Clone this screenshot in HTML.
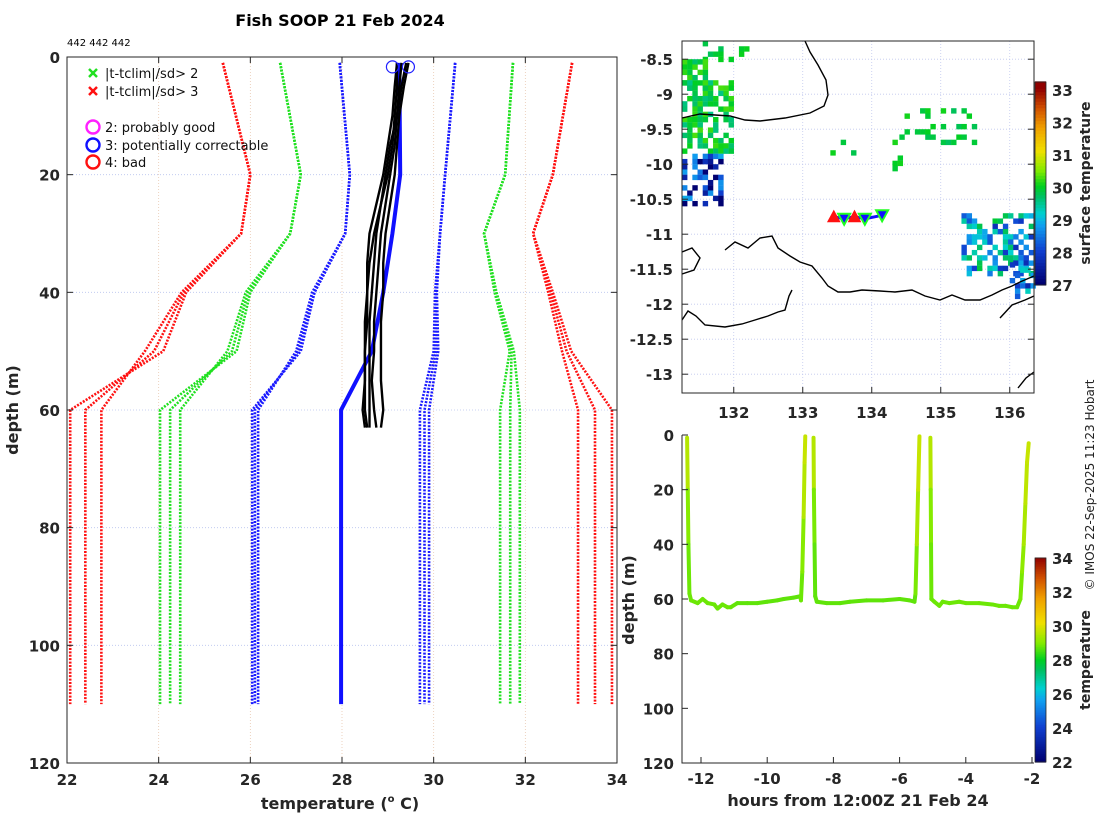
<!DOCTYPE html>
<html><head><meta charset="utf-8"><style>
body{margin:0;background:#fff;}
svg{display:block;font-family:"DejaVu Sans","Liberation Sans",sans-serif;}
.tk{font-size:15px;font-weight:bold;fill:#262626;}
</style></head><body>
<svg id="fig" width="1100" height="820" viewBox="0 0 1100 820">
<text x="340" y="26" text-anchor="middle" font-size="16" font-weight="bold" fill="#000">Fish SOOP 21 Feb 2024</text>
<text x="67" y="46" font-size="10" fill="#000">442 442 442</text>
<g id="left"></g>
<g id="map"></g>
<g id="ts"></g>
<text transform="translate(1094,485) rotate(-90)" text-anchor="middle" font-size="12" fill="#222">© IMOS 22-Sep-2025 11:23 Hobart</text>
</svg>
<script>
// ---------- data ----------
const climDepths=[0,20,30,40,50,60,110];
const red3a=[25.4,26.0,25.8,24.6,24.1,22.07,22.07];
const red3b=[25.4,26.0,25.8,24.55,23.9,22.4,22.4];
const red3c=[25.4,26.0,25.8,24.5,23.7,22.75,22.75];
const grn2a=[26.65,27.1,26.87,26.0,25.7,24.03,24.03];
const grn2b=[26.65,27.1,26.87,25.95,25.6,24.25,24.25];
const grn2c=[26.65,27.1,26.87,25.9,25.5,24.47,24.47];
const blu1a=[27.95,28.17,28.07,27.4,27.1,26.04,26.04];
const blu1b=[27.95,28.17,28.07,27.4,27.05,26.1,26.1];
const blu1c=[27.95,28.17,28.07,27.35,27.0,26.17,26.17];
const meanT=[29.25,29.27,29.1,28.9,28.65,27.98,27.98];
const bluHa=[30.47,30.25,30.14,30.03,30.0,29.7,29.7];
const bluHb=[30.47,30.25,30.14,30.05,30.05,29.8,29.8];
const bluHc=[30.47,30.25,30.14,30.07,30.1,29.9,29.9];
const grnHa=[31.73,31.56,31.1,31.33,31.66,31.45,31.45];
const grnHb=[31.73,31.56,31.1,31.35,31.7,31.67,31.67];
const grnHc=[31.73,31.56,31.1,31.37,31.75,31.88,31.88];
const redHa=[33.02,32.6,32.17,32.5,32.8,33.15,33.15];
const redHb=[33.02,32.6,32.17,32.55,32.9,33.52,33.52];
const redHc=[33.02,32.6,32.17,32.6,33.0,33.89,33.89];
const profDepths=[1,5,10,15,20,25,30,35,40,45,50,55,60,63];
const prof1=[29.2,29.15,29.1,29.0,28.9,28.75,28.6,28.55,28.55,28.55,28.5,28.5,28.5,28.55];
const prof2=[29.3,29.25,29.2,29.05,28.95,28.85,28.75,28.7,28.65,28.6,28.6,28.6,28.6,28.6];
const prof3=[29.4,29.3,29.2,29.15,29.05,28.95,28.85,28.8,28.75,28.7,28.7,28.65,28.7,28.75];
const prof4=[29.45,29.35,29.25,29.2,29.15,29.05,28.95,28.9,28.9,28.85,28.85,28.85,28.9,28.85];
const prof5=[29.2,29.2,29.15,29.1,29.0,28.85,28.7,28.6,28.55,28.5,28.5,28.5,28.45,28.5];
const flagTemps=[29.1,29.45];
const flagDepths=[1,1];
const tempTicks=[22,24,26,28,30,32,34];
const depthTicks=[0,20,40,60,80,100,120];
// time series
const tsTime=[-12.42,-12.40,-12.38,-12.35,-12.3,-12.1,-11.95,-11.8,-11.6,-11.5,-11.35,-11.2,-11.1,-10.9,-10.6,-10.3,-10.0,-9.7,-9.5,-9.2,-9.0,-8.98,-8.94,-8.9,-8.87,-8.85,
 -8.6,-8.59,-8.57,-8.55,-8.5,-8.2,-7.8,-7.5,-7.0,-6.5,-6.0,-5.7,-5.55,-5.52,-5.48,-5.44,-5.4,
 -5.07,-5.06,-5.05,-5.04,-4.95,-4.8,-4.7,-4.5,-4.2,-4.0,-3.6,-3.2,-3.0,-2.8,-2.6,-2.45,-2.35,-2.3,-2.25,-2.2,-2.15,-2.1];
const tsDepth=[1,20,40,58,60.5,61.5,60,61.5,62,63.5,62,63,63,61.5,61.5,61.5,61,60.5,60,59.5,59,60.5,50,30,10,0.5,
 1,20,40,59,61,61.5,61.5,61,60.5,60.5,60,60.5,61,58,40,20,0.5,
 1,20,40,60,61,62.5,61,61.5,61,61.5,61.5,62,62.5,62.5,63,63,60,50,40,25,10,3];
const tsTemp=[29.7,29.5,29.0,28.8,28.8,28.8,28.8,28.8,28.8,28.8,28.8,28.8,28.8,28.75,28.7,28.7,28.7,28.7,28.7,28.7,28.7,28.7,28.8,29.0,29.5,29.7,
 29.7,29.5,28.9,28.7,28.7,28.7,28.7,28.7,28.7,28.7,28.7,28.7,28.7,28.7,28.9,29.4,29.7,
 29.7,29.5,29.0,28.8,28.8,28.8,28.8,28.8,28.8,28.8,28.8,28.8,28.8,28.8,28.8,28.8,28.8,28.9,29.1,29.4,29.6,29.7];
const tsSeg=[0,0,0,0,0,0,0,0,0,0,0,0,0,0,0,0,0,0,0,0,0,0,0,0,0,0,
 1,1,1,1,1,1,1,1,1,1,1,1,1,1,1,1,1,
 2,2,2,2,2,2,2,2,2,2,2,2,2,2,2,2,2,2,2,2,2,2];
const hourTicks=[-12,-10,-8,-6,-4,-2];
const tsDepthTicks=[0,20,40,60,80,100,120];
const cb2Ticks=[22,24,26,28,30,32,34];
// map
const lonTicks=[132,133,134,135,136];
const latTicks=[-8.5,-9,-9.5,-10,-10.5,-11,-11.5,-12,-12.5,-13];
const cb1Ticks=[27,28,29,30,31,32,33];
const trackLon=[133.45,133.6,133.75,133.9,134.15];
const trackLat=[-10.75,-10.78,-10.75,-10.78,-10.73];
const trackMark=["up","down","up","down","down"];
// clusters: lon0,lon1,lat0,lat1,baseTemp,density,spread
const clusterLon0=[131.25,131.25,131.55,133.4,135.3,136.0,131.25,134.4];
const clusterLon1=[131.95,131.85,132.2,134.6,136.34,136.34,131.6,135.5];
const clusterLat0=[-8.8,-9.85,-8.24,-9.65,-10.7,-11.4,-8.5,-9.2];
const clusterLat1=[-9.8,-10.6,-8.5,-10.1,-11.6,-11.9,-8.9,-9.7];
const clusterTemp=[29.9,27.8,29.9,29.9,28.8,28.6,29.9,29.9];
const clusterDens=[0.6,0.5,0.3,0.09,0.55,0.5,0.6,0.2];
const clusterSpread=[0.8,2.2,0.5,0.4,2.2,2.0,0.8,0.4];

// ---------- helpers ----------
const NS='http://www.w3.org/2000/svg';
function mk(parent,tag,attrs,name){const e=document.createElementNS(NS,tag);for(const k in attrs)e.setAttribute(k,attrs[k]);


parent.appendChild(e);return e;}
function txt(parent,x,y,s,anchor,cls,name){const t=mk(parent,'text',{x:x,y:y,'text-anchor':anchor,class:cls},name);t.textContent=s;return t;}
const stops=[[0,[0,0,112]],[0.17,[16,64,208]],[0.3,[16,160,240]],[0.36,[0,208,208]],[0.45,[0,192,96]],[0.5,[0,208,32]],[0.58,[130,235,0]],[0.68,[240,224,0]],[0.8,[240,160,0]],[0.9,[208,80,0]],[1,[144,0,0]]];
function cmap(t){t=Math.max(0,Math.min(1,t));for(let i=1;i<stops.length;i++){if(t<=stops[i][0]){const a=stops[i-1],b=stops[i];const f=(t-a[0])/(b[0]-a[0]);const c=a[1].map((v,j)=>Math.round(v+(b[1][j]-v)*f));return `rgb(${c[0]},${c[1]},${c[2]})`;}}return 'rgb(144,0,0)';}
function hash(i,j,k){let h=(i*374761393+j*668265263+k*1442695041)>>>0;h=(h^(h>>>13))*1274126177>>>0;return (h%10000)/10000;}

// ---------- left profile plot ----------
const L=document.getElementById('left');
const xs=t=>67+(t-22)*(550/12), ys=d=>57+d*(706/120);
tempTicks.forEach(t=>{if(t>22&&t<34)mk(L,'line',{x1:xs(t),x2:xs(t),y1:57,y2:763,stroke:'#e8c8b0','stroke-width':0.8,'stroke-dasharray':'1,2'},'x-gridline');});
depthTicks.forEach(d=>{if(d>0&&d<120)mk(L,'line',{x1:67,x2:617,y1:ys(d),y2:ys(d),stroke:'#b8c4ee','stroke-width':0.8,'stroke-dasharray':'1,2'},'y-gridline');});
function climLine(arr,col,name){mk(L,'polyline',{points:arr.map((t,i)=>xs(t)+','+ys(Math.max(climDepths[i],1))).join(' '),fill:'none',stroke:col,'stroke-width':2.6,'stroke-dasharray':'2,1.4'},name);}
[red3a,red3b,red3c,redHa,redHb,redHc].forEach(a=>climLine(a,'#ff1010','clim-3sd-line'));
[grn2a,grn2b,grn2c,grnHa,grnHb,grnHc].forEach(a=>climLine(a,'#20e020','clim-2sd-line'));
[blu1a,blu1b,blu1c,bluHa,bluHb,bluHc].forEach(a=>climLine(a,'#1a1aff','clim-1sd-line'));
mk(L,'polyline',{points:meanT.map((t,i)=>xs(t)+','+ys(Math.max(climDepths[i],1))).join(' '),fill:'none',stroke:'#1010ff','stroke-width':4},'clim-mean-line');
[prof1,prof2,prof3,prof4,prof5].forEach(p=>{mk(L,'polyline',{points:p.map((t,i)=>xs(t)+','+ys(profDepths[i])).join(' '),fill:'none',stroke:'#000','stroke-width':2.4,'stroke-linejoin':'round'},'temperature-profile');});
flagTemps.forEach((t,i)=>mk(L,'circle',{cx:xs(t),cy:ys(flagDepths[i])+4,r:6,fill:'none',stroke:'#2020ff','stroke-width':1.2},'flag-circle'));
mk(L,'rect',{x:67,y:57,width:550,height:706,fill:'none',stroke:'#262626','stroke-width':1},'plot-frame');
tempTicks.forEach(t=>{mk(L,'line',{x1:xs(t),x2:xs(t),y1:763,y2:757,stroke:'#262626'},'x-tick');mk(L,'line',{x1:xs(t),x2:xs(t),y1:57,y2:63,stroke:'#262626'},'x-tick');txt(L,xs(t),785,String(t),'middle','tk','x-tick-label');});
depthTicks.forEach(d=>{mk(L,'line',{x1:67,x2:73,y1:ys(d),y2:ys(d),stroke:'#262626'},'y-tick');mk(L,'line',{x1:611,x2:617,y1:ys(d),y2:ys(d),stroke:'#262626'},'y-tick');txt(L,60,ys(d)+6,String(d),'end','tk','y-tick-label');});
const xl=mk(L,'text',{x:340,y:809,'text-anchor':'middle','font-size':16,'font-weight':'bold',fill:'#262626'},'x-axis-title');xl.innerHTML='temperature (<tspan font-size="10" dy="-7">o</tspan><tspan dy="7"> C)</tspan>';
const yl=mk(L,'text',{transform:'translate(18,410) rotate(-90)','text-anchor':'middle','font-size':16,'font-weight':'bold',fill:'#262626'},'y-axis-title');yl.textContent='depth (m)';
// legend
const legItems=[['x','#20e020','|t-tclim|/sd> 2',73],['x','#ff1010','|t-tclim|/sd> 3',91],['o','#ff20ff','2: probably good',127],['o','#1010ff','3: potentially correctable',145],['o','#ff1010','4: bad',162]];
legItems.forEach(it=>{const y=it[3];
 if(it[0]==='x'){const g=mk(L,'g',{},'legend-marker');mk(g,'line',{x1:89,y1:y-4,x2:97,y2:y+4,stroke:it[1],'stroke-width':2.5},'legend-x');mk(g,'line',{x1:89,y1:y+4,x2:97,y2:y-4,stroke:it[1],'stroke-width':2.5},'legend-x');}
 else mk(L,'circle',{cx:93,cy:y,r:6.5,fill:'none',stroke:it[1],'stroke-width':2.4},'legend-marker');
 const t=txt(L,105,y+5,it[2],'start','','legend-entry');t.setAttribute('font-size','13');t.setAttribute('fill','#111');});

// ---------- map ----------
const M=document.getElementById('map');
const lx=lon=>682+(lon-131.25)*69, ly=lat=>41+(-8.24-lat)*70;
const sstT=v=>(v-27)/6;
lonTicks.forEach(l=>mk(M,'line',{x1:lx(l),x2:lx(l),y1:41,y2:393,stroke:'#c0c8ee','stroke-width':0.8,'stroke-dasharray':'1,2'},'map-x-gridline'));
latTicks.forEach(l=>mk(M,'line',{x1:682,x2:1034,y1:ly(l),y2:ly(l),stroke:'#c0c8ee','stroke-width':0.8,'stroke-dasharray':'1,2'},'map-y-gridline'));
const cs=0.075;
clusterLon0.forEach((l0,k)=>{const l1=clusterLon1[k],a0=clusterLat0[k],a1=clusterLat1[k];
 for(let i=0;l0+i*cs<l1;i++)for(let j=0;a0-j*cs>a1;j++){if(hash(i,j,k)<clusterDens[k]){const tv=clusterTemp[k]+(hash(j,i,k+7)-0.5)*clusterSpread[k];
 mk(M,'rect',{x:lx(l0+i*cs),y:ly(a0-j*cs),width:5.4,height:5.4,fill:cmap(sstT(tv))},'sst-cell');}}});
const coastN='M682,118 L700,114 L730,116 L745,120 L760,121 L785,118 L810,113 L824,106 L828,95 L826,80 L818,65 L810,52 L805,41';
const coastS='M682,252 L692,248 L700,258 L694,270 L682,274 M725,250 L735,242 L748,248 L760,238 L772,236 L778,248 L790,256 L800,262 L812,266 L822,278 L828,286 L838,292 L850,292 L862,290 L880,291 L895,292 L912,290 L925,296 L940,300 L952,295 L965,300 L980,300 L992,295 L1002,290 L1012,286 L1020,282 L1034,276 M682,320 L688,311 L696,316 L705,325 L725,327 L742,324 L755,320 L768,316 L778,312 L785,310 L789,296 L792,290 M1000,318 L1012,305 L1025,300 L1034,296 M1018,388 L1026,378 L1034,372';
mk(M,'path',{d:coastN+' '+coastS,fill:'none',stroke:'#000','stroke-width':1.4},'coastline');
trackLon.forEach((lo,i)=>{const x=lx(lo),y=ly(trackLat[i]);
 if(i>0)mk(M,'line',{x1:lx(trackLon[i-1]),y1:ly(trackLat[i-1]),x2:x,y2:y,stroke:'#1010ff','stroke-width':3},'ship-track');});
trackLon.forEach((lo,i)=>{const x=lx(lo),y=ly(trackLat[i]);
 if(trackMark[i]==='up')mk(M,'path',{d:`M${x-6},${y+5} L${x+6},${y+5} L${x},${y-6} Z`,fill:'#ff1010',stroke:'#ff1010'},'track-marker');
 else mk(M,'path',{d:`M${x-6},${y-5} L${x+6},${y-5} L${x},${y+6} Z`,fill:'#1010ff',stroke:'#20ff20','stroke-width':2},'track-marker');});
mk(M,'rect',{x:682,y:41,width:352,height:352,fill:'none',stroke:'#262626'},'map-frame');
lonTicks.forEach(l=>{mk(M,'line',{x1:lx(l),x2:lx(l),y1:393,y2:387,stroke:'#262626'},'lon-tick');txt(M,lx(l),418,String(l),'middle','tk','lon-tick-label');});
latTicks.forEach(l=>{mk(M,'line',{x1:682,x2:688,y1:ly(l),y2:ly(l),stroke:'#262626'},'lat-tick');mk(M,'line',{x1:1028,x2:1034,y1:ly(l),y2:ly(l),stroke:'#262626'},'lat-tick');txt(M,673,ly(l)+6,String(l),'end','tk','lat-tick-label');});
// map colorbar 27..33 (extends to 33.25 at top)
const cb1y=v=>285-(v-27)*(195/6);
for(let k=0;k<63;k++){const v=27+k*6.25/63;mk(M,'rect',{x:1035,y:cb1y(v+0.1)-0.5,width:11,height:4.3,fill:cmap(sstT(v))},'colorbar-cell');}
mk(M,'rect',{x:1035,y:82,width:11,height:203,fill:'none',stroke:'#262626','stroke-width':0.8},'colorbar-frame');
cb1Ticks.forEach(v=>txt(M,1052,cb1y(v)+6,String(v),'start','tk','colorbar-tick-label'));
mk(M,'text',{transform:'translate(1090,183) rotate(-90)','text-anchor':'middle','font-size':14,'font-weight':'bold',fill:'#262626'},'colorbar-title').textContent='surface temperature';

// ---------- time series ----------
const T=document.getElementById('ts');
const xt=h=>701+(h+12)*33.1, yd=d=>435+d*(328/120);
for(let i=1;i<tsTime.length;i++){if(tsSeg[i]!==tsSeg[i-1])continue;
 mk(T,'line',{x1:xt(tsTime[i-1]),y1:yd(tsDepth[i-1]),x2:xt(tsTime[i]),y2:yd(tsDepth[i]),stroke:cmap((tsTemp[i]-22)/12),'stroke-width':4,'stroke-linecap':'round'},'depth-track');}
mk(T,'path',{d:'M682,435 L682,763 L1034,763',fill:'none',stroke:'#262626'},'ts-axes');
hourTicks.forEach(h=>{mk(T,'line',{x1:xt(h),x2:xt(h),y1:763,y2:757,stroke:'#262626'},'hour-tick');txt(T,xt(h),784,String(h),'middle','tk','hour-tick-label');});
tsDepthTicks.forEach(d=>{mk(T,'line',{x1:682,x2:688,y1:yd(d),y2:yd(d),stroke:'#262626'},'ts-depth-tick');txt(T,674,yd(d)+6,String(d),'end','tk','ts-depth-tick-label');});
mk(T,'text',{x:858,y:806,'text-anchor':'middle','font-size':16,'font-weight':'bold',fill:'#262626'},'ts-x-axis-title').textContent='hours from 12:00Z 21 Feb 24';
mk(T,'text',{transform:'translate(634,600) rotate(-90)','text-anchor':'middle','font-size':16,'font-weight':'bold',fill:'#262626'},'ts-y-axis-title').textContent='depth (m)';
const cb2y=v=>762-(v-22)*(204/12);
for(let k=0;k<120;k++){const v=22+k*12/120;mk(T,'rect',{x:1035,y:cb2y(v+0.1)-0.5,width:11,height:2.8,fill:cmap((v-22)/12)},'colorbar-cell');}
mk(T,'rect',{x:1035,y:558,width:11,height:204,fill:'none',stroke:'#262626','stroke-width':0.8},'colorbar-frame');
cb2Ticks.forEach(v=>txt(T,1052,cb2y(v)+6,String(v),'start','tk','colorbar-tick-label'));
mk(T,'text',{transform:'translate(1090,660) rotate(-90)','text-anchor':'middle','font-size':14,'font-weight':'bold',fill:'#262626'},'colorbar-title').textContent='temperature';
</script>
</body></html>
